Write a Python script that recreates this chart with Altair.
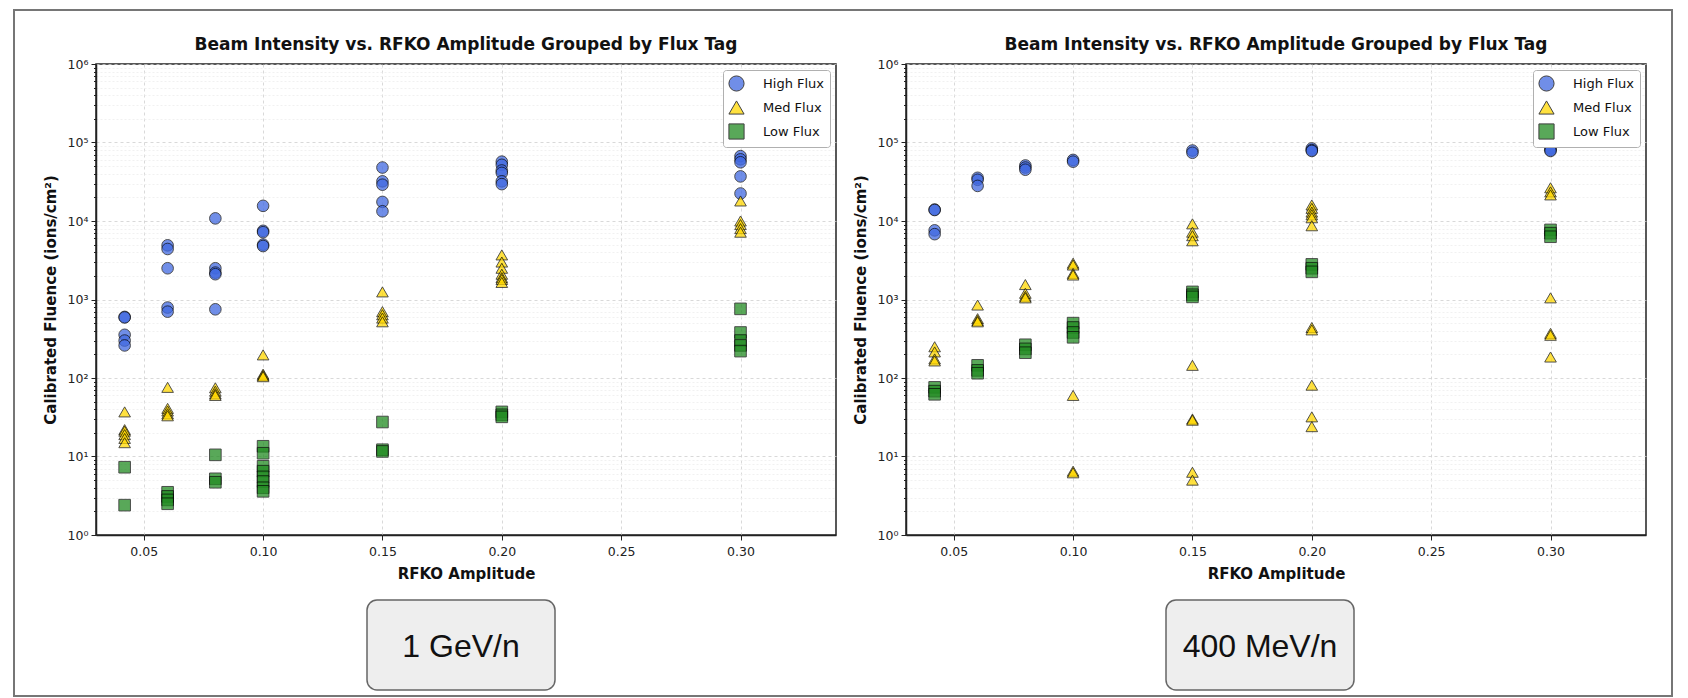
import altair as alt
import pandas as pd

# RFKO amplitude settings shared by both panels
AMPLITUDES = [0.042, 0.06, 0.08, 0.10, 0.15, 0.20, 0.30]

# 1 GeV/n, one list per amplitude
GEV_HIGH = [
    [600, 590, 355, 300, 260],
    [4900, 4400, 2500, 790, 700],
    [10800, 2500, 2200, 2100, 750],
    [15600, 7500, 7200, 5000, 4800],
    [48000, 32000, 29000, 17500, 13300],
    [57000, 52000, 44000, 41000, 32000, 29500],
    [67000, 61000, 56000, 37000, 22400],
]
GEV_MED = [
    [37, 22, 21, 19, 17, 15],
    [76, 41, 38, 35, 33],
    [75, 68, 63, 60],
    [197, 112, 108, 104],
    [1250, 700, 640, 580, 520],
    [3700, 3000, 2500, 2100, 1900, 1800, 1650],
    [18000, 10000, 9000, 8000, 7200],
]
GEV_LOW = [
    [7.3, 2.4],
    [3.5, 3.1, 2.8, 2.5],
    [10.5, 5.2, 4.7],
    [13.5, 11, 7.5, 6.5, 5.5, 4.8, 4.0, 3.6],
    [27.5, 12.2, 11.6],
    [37, 34, 32],
    [760, 380, 300, 260, 220],
]

# 400 MeV/n
MEV_HIGH = [
    [14000, 13800, 7600, 6800],
    [35500, 33500, 28000],
    [51000, 48000, 45000],
    [60000, 57000],
    [79000, 74000],
    [84000, 80000, 78000],
    [84000, 80000, 78000],
]
MEV_MED = [
    [250, 215, 175, 165],
    [850, 570, 540, 520],
    [1550, 1200, 1100, 1050],
    [2900, 2750, 2150, 2050, 60, 6.5, 6.2],
    [9200, 7200, 6500, 5600, 145, 30, 29, 6.3, 5.0],
    [16000, 14500, 13000, 12000, 11000, 8700, 440, 410, 81, 32, 24],
    [26500, 23500, 21500, 1050, 370, 350, 185],
]
MEV_LOW = [
    [76, 68, 62],
    [145, 125, 115],
    [265, 235, 210],
    [500, 440, 380, 330],
    [1250, 1150, 1080],
    [2800, 2500, 2250],
    [7700, 7000, 6300],
]

FLUX_TAGS = ["High Flux", "Med Flux", "Low Flux"]
FLUX_COLORS = ["#4169E1", "#FFD700", "#228B22"]
FLUX_SHAPES = ["circle", "triangle-up", "square"]
X_TICKS = [0.05, 0.10, 0.15, 0.20, 0.25, 0.30]
Y_TICKS = [m * 10 ** k for k in range(6) for m in range(1, 10)] + [10 ** 6]

TITLE = "Beam Intensity vs. RFKO Amplitude Grouped by Flux Tag"
W, H = 740, 471
FONT = "DejaVu Sans"

MAJOR = "abs(log(datum.value) / LN10 - round(log(datum.value) / LN10)) < 1e-6"
SUPERS = "['\u2070','\u00b9','\u00b2','\u00b3','\u2074','\u2075','\u2076']"


def long_table(high, med, low):
    rows = []
    for tag, groups in zip(FLUX_TAGS, (high, med, low)):
        for amp, vals in zip(AMPLITUDES, groups):
            for v in vals:
                rows.append({"amp": amp, "fluence": v, "flux": tag})
    return pd.DataFrame(rows)


def one_row():
    return alt.Chart(pd.DataFrame({"k": [0]}))


def make_panel(df, label, box_cx, with_frame=False):
    legend = alt.Legend(
        title=None,
        orient="top-right",
        offset=6,
        fillColor="white",
        strokeColor="#b0b0b0",
        cornerRadius=3,
        padding=5,
        rowPadding=4,
        symbolSize=230,
        symbolStrokeWidth=1,
        symbolOpacity=0.75,
        labelFont=FONT,
        labelFontSize=13,
        labelColor="#111",
        labelOffset=18,
    )
    points = (
        alt.Chart(df)
        .mark_point(filled=True, size=135, opacity=0.75, stroke="black", strokeWidth=0.9)
        .encode(
            x=alt.X(
                "amp:Q",
                title="RFKO Amplitude",
                scale=alt.Scale(domain=[0.03, 0.34], nice=False, zero=False),
                axis=alt.Axis(
                    values=X_TICKS,
                    format=".2f",
                    grid=True,
                    gridColor="#cfcfcf",
                    gridDash=[3, 3],
                    gridWidth=0.8,
                    tickSize=5,
                    labelPadding=5,
                    titlePadding=9,
                ),
            ),
            y=alt.Y(
                "fluence:Q",
                title="Calibrated Fluence (ions/cm\u00b2)",
                scale=alt.Scale(type="log", domain=[1, 1e6], nice=False),
                axis=alt.Axis(
                    values=Y_TICKS,
                    labelExpr=f"({MAJOR}) ? '10' + {SUPERS}[round(log(datum.value) / LN10)] : ''",
                    labelOverlap=False,
                    grid=True,
                    gridColor={"condition": {"test": MAJOR, "value": "#cfcfcf"}, "value": "#ededed"},
                    gridDash={"condition": {"test": MAJOR, "value": [3, 3]}, "value": [2, 2]},
                    gridWidth=0.8,
                    tickSize={"condition": {"test": MAJOR, "value": 5}, "value": 2.5},
                    labelPadding=3,
                    titlePadding=9,
                ),
            ),
            color=alt.Color(
                "flux:N", scale=alt.Scale(domain=FLUX_TAGS, range=FLUX_COLORS), legend=legend
            ),
            shape=alt.Shape(
                "flux:N", scale=alt.Scale(domain=FLUX_TAGS, range=FLUX_SHAPES), legend=legend
            ),
        )
    )

    title = (
        one_row()
        .mark_text(text=TITLE, font=FONT, fontSize=17, fontWeight="bold", color="#111", baseline="middle")
        .encode(x=alt.value(W / 2), y=alt.value(-19))
    )
    box = (
        one_row()
        .mark_rect(cornerRadius=10, fill="#eeeeee", stroke="#666666", strokeWidth=1.5)
        .encode(
            x=alt.value(box_cx - 94),
            x2=alt.value(box_cx + 94),
            y=alt.value(536),
            y2=alt.value(626),
        )
    )
    box_text = (
        one_row()
        .mark_text(text=label, font="Liberation Sans", fontSize=32, color="#111", baseline="middle")
        .encode(x=alt.value(box_cx), y=alt.value(583))
    )
    layers = [points, title, box, box_text]
    if with_frame:
        frame = (
            one_row()
            .mark_rect(fill="transparent", stroke="#767676", strokeWidth=2)
            .encode(
                x=alt.value(-82),
                x2=alt.value(1576),
                y=alt.value(-54),
                y2=alt.value(632),
            )
        )
        layers.insert(0, frame)
    return alt.layer(*layers).properties(width=W, height=H)


left = make_panel(long_table(GEV_HIGH, GEV_MED, GEV_LOW), "1 GeV/n", 365, with_frame=True)
right = make_panel(long_table(MEV_HIGH, MEV_MED, MEV_LOW), "400 MeV/n", 354)

chart = (
    alt.hconcat(left, right, spacing=70, bounds="flush")
    .resolve_legend(color="independent", shape="independent")
    .properties(padding={"left": 4, "top": 0, "right": 0, "bottom": 0})
    .configure_view(stroke="#222", strokeWidth=1.5)
    .configure_axis(
        labelFont=FONT,
        labelFontSize=12.5,
        labelColor="#222",
        titleFont=FONT,
        titleFontSize=15,
        titleFontWeight="bold",
        titleColor="#111",
        domainColor="#222",
        domainWidth=1.5,
        tickColor="#222",
    )
)

chart.save("out.html", embed_options={"renderer": "svg", "actions": False})
